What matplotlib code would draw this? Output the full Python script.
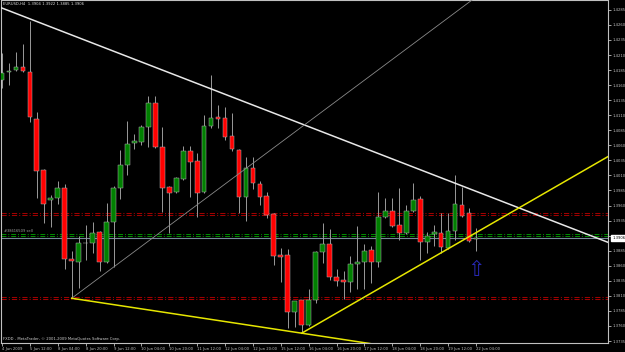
import matplotlib
matplotlib.use("Agg")
import matplotlib.pyplot as plt
import matplotlib.transforms as mtransforms

# EURUSD H4 bars, 4 Jun 2009 20:00 .. 22 Jun 04:00
opens = [1.4169, 1.4181, 1.4185, 1.4190, 1.4182, 1.4104, 1.4019, 1.3969, 1.3973, 1.3989,
         1.3871, 1.3866, 1.3897, 1.3898, 1.3916, 1.3866, 1.3933, 1.3989, 1.4027, 1.4064,
         1.4065, 1.4090, 1.4130, 1.4057, 1.3991, 1.3982, 1.4004, 1.4051, 1.4034, 1.3982,
         1.4092, 1.4107, 1.4105, 1.4075, 1.4052, 1.3974, 1.4022, 1.3996, 1.3976, 1.3946,
         1.3878, 1.3878, 1.3783, 1.3803, 1.3762, 1.3803, 1.3883, 1.3896, 1.3841, 1.3836,
         1.3833, 1.3863, 1.3866, 1.3886, 1.3866, 1.3941, 1.3951, 1.3927, 1.3914, 1.3951,
         1.3971, 1.3899, 1.3913, 1.3914, 1.3889, 1.3918, 1.3961, 1.3948, 1.3904]
highs = [1.4213, 1.4197, 1.4215, 1.4228, 1.4267, 1.4115, 1.4020, 1.3977, 1.4001, 1.3996,
         1.3884, 1.3909, 1.3928, 1.3933, 1.3918, 1.3964, 1.3992, 1.4052, 1.4100, 1.4079,
         1.4094, 1.4142, 1.4142, 1.4090, 1.3992, 1.4008, 1.4059, 1.4059, 1.4047, 1.4110,
         1.4177, 1.4127, 1.4124, 1.4114, 1.4054, 1.4041, 1.4041, 1.4001, 1.3982, 1.3948,
         1.3890, 1.3888, 1.3802, 1.3803, 1.3821, 1.3884, 1.3931, 1.3921, 1.3855, 1.3851,
         1.3876, 1.3926, 1.3896, 1.3893, 1.3982, 1.3972, 1.3972, 1.3989, 1.3961, 1.3997,
         1.3976, 1.3916, 1.3928, 1.3948, 1.3948, 1.4011, 1.3991, 1.3956, 1.3922]
lows = [1.4155, 1.4160, 1.4183, 1.4182, 1.4099, 1.3973, 1.3931, 1.3924, 1.3963, 1.3855,
        1.3806, 1.3823, 1.3870, 1.3881, 1.3851, 1.3864, 1.3858, 1.3971, 1.4011, 1.4054,
        1.4061, 1.4057, 1.4055, 1.3949, 1.3914, 1.3981, 1.4003, 1.3974, 1.3941, 1.3981,
        1.4089, 1.4089, 1.4069, 1.4051, 1.3948, 1.3934, 1.3987, 1.3961, 1.3939, 1.3861,
        1.3833, 1.3757, 1.3758, 1.3748, 1.3760, 1.3798, 1.3865, 1.3836, 1.3826, 1.3805,
        1.3816, 1.3821, 1.3821, 1.3831, 1.3858, 1.3939, 1.3924, 1.3903, 1.3912, 1.3949,
        1.3870, 1.3881, 1.3893, 1.3881, 1.3888, 1.3903, 1.3941, 1.3899, 1.3885]
closes = [1.4180, 1.4183, 1.4190, 1.4183, 1.4107, 1.4017, 1.3963, 1.3973, 1.3989, 1.3871,
          1.3868, 1.3898, 1.3898, 1.3914, 1.3866, 1.3933, 1.3989, 1.4027, 1.4062, 1.4067,
          1.4090, 1.4130, 1.4057, 1.3989, 1.3981, 1.4006, 1.4051, 1.4032, 1.3981, 1.4092,
          1.4105, 1.4104, 1.4074, 1.4054, 1.3974, 1.4022, 1.3997, 1.3974, 1.3944, 1.3876,
          1.3875, 1.3783, 1.3801, 1.3762, 1.3803, 1.3883, 1.3896, 1.3841, 1.3834, 1.3833,
          1.3863, 1.3866, 1.3884, 1.3866, 1.3941, 1.3951, 1.3926, 1.3914, 1.3951, 1.3969,
          1.3899, 1.3909, 1.3916, 1.3891, 1.3918, 1.3963, 1.3943, 1.3901, 1.3906]

time_labels = ["4 Jun 2009", "5 Jun 12:00", "8 Jun 04:00", "8 Jun 20:00", "9 Jun 12:00",
               "10 Jun 04:00", "10 Jun 20:00", "11 Jun 12:00", "12 Jun 04:00", "12 Jun 20:00",
               "15 Jun 12:00", "16 Jun 04:00", "16 Jun 20:00", "17 Jun 12:00", "18 Jun 04:00",
               "18 Jun 20:00", "19 Jun 12:00", "22 Jun 04:00"]
label_bars = [0, 4, 8, 12, 16, 20, 24, 28, 32, 36, 40, 44, 48, 52, 56, 60, 64, 68]

price_ticks = [1.3735, 1.3760, 1.3785, 1.3810, 1.3835, 1.3860, 1.3885, 1.3910, 1.3935,
               1.3960, 1.3985, 1.4010, 1.4035, 1.4060, 1.4085, 1.4110, 1.4135, 1.4160,
               1.4185, 1.4210, 1.4235, 1.4260, 1.4285]

# drawn objects: (bar, price) anchors
white_line = [(0, 1.4288), (80, 1.3930)]
gray_line = [(10, 1.3806), (50, 1.4151)]
yellow_low = [(10, 1.3806), (43, 1.3748)]
yellow_up = [(43, 1.3748), (80, 1.3995)]
red_levels = [1.3948, 1.3944, 1.3808, 1.3804]
green_levels = [1.3913, 1.3909]
bid = 1.3906
order_text = "#38616509 sell"
arrow_bar, arrow_price = 68, 1.3870

fg = "#c0c0c0"
fs = 2.7
fig = plt.figure(figsize=(6.25, 3.52), dpi=100, facecolor="black")
ax = fig.add_axes([1 / 625, 9 / 352, 607 / 625, 343 / 352], facecolor="black")
xmax = 606 / 6.97
ax.set_xlim(-1 / 6.97, xmax)
ax.set_ylim(1.37317, 1.43014)

# candles
n = len(opens)
for i in range(n):
    o, h, l, c = opens[i], highs[i], lows[i], closes[i]
    up = c >= o
    ax.vlines(i, l, h, color="#9a9a9a", lw=0.7, zorder=3)
    bottom = min(o, c)
    height = max(abs(c - o), 0.00012)
    ax.bar(i, height, bottom=bottom, width=0.68,
           color="#008000" if up else "#ff0000",
           edgecolor="#b0b0b0", linewidth=0.35, zorder=4)


def ray(pts, x_end):
    (b0, p0), (b1, p1) = pts
    k = (p1 - p0) / (b1 - b0)
    return [b0, x_end], [p0, p0 + k * (x_end - b0)]


ax.axline(white_line[0], white_line[1], color="#e8e8e8", lw=1.1, zorder=5)
xs, ys = ray(gray_line, xmax + 5)
ax.plot(xs, ys, color="#8a8a8a", lw=0.6, zorder=5)
for pts in (yellow_low, yellow_up):
    xs, ys = ray(pts, xmax + 5)
    ax.plot(xs, ys, color="#e6e600", lw=1.1, zorder=5)

for lv in red_levels:
    ax.axhline(lv, color="#a00000", lw=0.75, ls=(0, (5, 2, 1, 2)), zorder=2)
for lv in green_levels:
    ax.axhline(lv, color="#009000", lw=0.7, ls=(0, (5, 2, 1, 2)), zorder=2)
ax.axhline(bid, color="#778899", lw=0.8, zorder=2)

ax.text(0.3, green_levels[0] + 0.00012, order_text, color="#a0a0a0", fontsize=2.6,
        ha="left", va="bottom", zorder=6)
ax.text(arrow_bar, arrow_price, "\u21e7", color="#2828b4", fontsize=15,
        ha="center", va="top", zorder=6)

# header / footer
ax.text(0.004, 0.995, "EURUSD,H4  1.3904 1.3922 1.3885 1.3906", transform=ax.transAxes,
        color="#e0e0e0", fontsize=fs, ha="left", va="top")
ax.text(0.004, 0.006, "FXDD - MetaTrader, \u00a9 2001-2009 MetaQuotes Software Corp.",
        transform=ax.transAxes, color="#d0d0d0", fontsize=fs, ha="left", va="bottom")

# axes
for s in ax.spines.values():
    s.set_color(fg)
    s.set_linewidth(0.8)
ax.yaxis.tick_right()
ax.set_yticks(price_ticks)
# the tick under the bid box is hidden by it, as in the terminal
ax.set_yticklabels(["" if abs(p - bid) < 0.0008 else "%.4f" % p for p in price_ticks])
ax.set_xticks(label_bars)
ax.set_xticklabels(time_labels, ha="left")
ax.tick_params(axis="both", colors=fg, labelsize=fs, length=2, width=0.6, pad=1.2)
ax.tick_params(axis="y", pad=1.5)

trans = mtransforms.blended_transform_factory(ax.transAxes, ax.transData)
ax.text(1.007, bid, "%.4f" % bid, transform=trans, color="black", fontsize=fs,
        ha="left", va="center", zorder=10,
        bbox=dict(boxstyle="square,pad=0.3", fc="white", ec="white"))

fig.savefig("out.png", dpi=100, facecolor="black")
